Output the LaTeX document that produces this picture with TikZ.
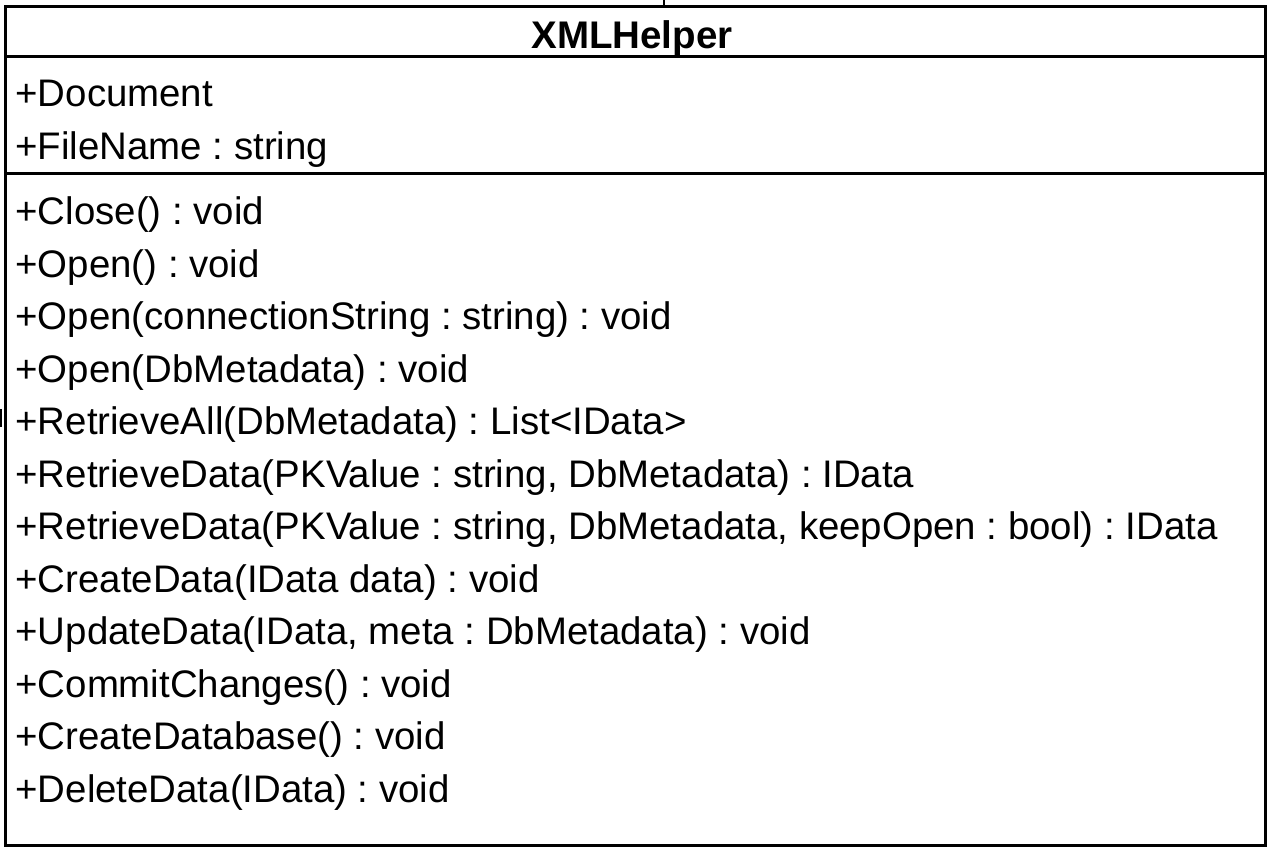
\documentclass[tikz,border=0pt]{standalone}
\usepackage{fontspec}
\setmainfont{Liberation Sans}
\frenchspacing
\begin{document}
\begin{tikzpicture}[x=1pt,y=-1pt,line width=3pt,
    member/.style={anchor=base west,inner sep=0pt,font=\fontsize{38.4}{38.4}\selectfont}]
    \useasboundingbox (0,0) rectangle (1272,852);
    % class box
    \draw (5.5,6.5) rectangle (1265,845);
    \draw (5.5,56) -- (1265,56);
    \draw (5.5,173) -- (1265,173);
    \node[anchor=base,inner sep=0pt,font=\fontsize{38.5}{38.5}\selectfont\bfseries] (title) at (632,48) {XMLHelper};
    % attributes
    \node[member] (attr1) at (14,106.5) {+Document};
    \node[member] (attr2) at (14,159) {+FileName : string};
    % operations
    \foreach \txt [count=\i] in {%
        {+Close() : void},
        {+Open() : void},
        {+Open(connectionString : string) : void},
        {+Open(DbMetadata) : void},
        {+RetrieveAll(DbMetadata) : List<IData>},
        {+RetrieveData(PKValue : string, DbMetadata) : IData},
        {+RetrieveData(PKValue : string, DbMetadata, keepOpen : bool) : IData},
        {+CreateData(IData data) : void},
        {+UpdateData(IData, meta : DbMetadata) : void},
        {+CommitChanges() : void},
        {+CreateDatabase() : void},
        {+DeleteData(IData) : void}}
        \node[member] (op\i) at (14,{224.5+52.5*(\i-1)}) {\txt};
    % connector stubs
    \coordinate (up) at (664,0);
    \coordinate (upend) at (664,6.5);
    \draw[line width=2pt] (up) -- (upend);
    \coordinate (lt) at (0.5,409);
    \coordinate (lb) at (0.5,427);
    \draw[line width=2pt] (lt) -- (lb);
\end{tikzpicture}
\end{document}
